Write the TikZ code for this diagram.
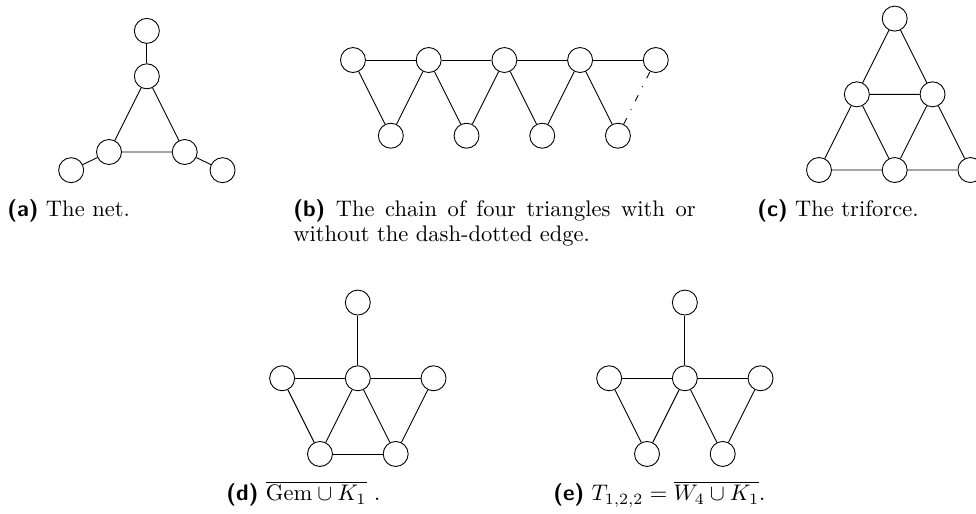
\documentclass[tikz,border=0pt]{standalone}
\begin{document}
\begin{tikzpicture}[x=1.182cm, y=1.182cm,
    vtx/.style={circle, draw, inner sep=0pt, minimum size=0.39cm},
    captxt/.style={anchor=base west, inner sep=0pt}]
\useasboundingbox (0,0) rectangle (12.893,-6.790);
% (a) The net
\begin{scope}[shift={(1.440,-2.008)}]
  \node[vtx] (na) at (0,0) {};
  \node[vtx] (nb) at (1,0) {};
  \node[vtx] (nc) at (0.5,1) {};
  \node[vtx] (nd) at (0.5,1.6) {};
  \node[vtx] (ne) at (-0.5,-0.24) {};
  \node[vtx] (nf) at (1.5,-0.24) {};
  \draw (na) -- (nb) -- (nc) -- (na);
  \draw (nc) -- (nd);
  \draw (na) -- (ne);
  \draw (nb) -- (nf);
\end{scope}
\node[captxt] (capa) at (0.092,-2.866) {\textsf{\textbf{(a)}} The net.};
% (b) Chain of four triangles
\begin{scope}[shift={(4.663,-0.793)}]
  \foreach \i in {0,...,4}
    \node[vtx] (t\i) at (\i,0) {};
  \foreach \i in {0,...,3}
    \node[vtx] (u\i) at (\i+0.5,-1) {};
  \draw (t0) -- (t1) -- (t2) -- (t3) -- (t4);
  \foreach \i/\j in {0/1,1/2,2/3}
    \draw (t\i) -- (u\i) -- (t\j);
  \draw (t3) -- (u3);
  \draw[loosely dash dot] (u3) -- (t4);
\end{scope}
\node[captxt, text width=6.28cm, align=justify,
      font=\fontsize{10}{11}\selectfont] (capb) at (3.870,-2.866)
  {\textsf{\textbf{(b)}} The chain of four triangles with or without the dash-dotted edge.};
% (c) The triforce
\begin{scope}[shift={(10.819,-2.246)}]
  \node[vtx] (f0) at (0,0) {};
  \node[vtx] (f1) at (1,0) {};
  \node[vtx] (f2) at (2,0) {};
  \node[vtx] (f3) at (0.5,1) {};
  \node[vtx] (f4) at (1.5,1) {};
  \node[vtx] (f5) at (1,2) {};
  \draw (f0) -- (f1) -- (f2) -- (f4) -- (f5) -- (f3) -- (f0);
  \draw (f3) -- (f4) -- (f1) -- (f3);
\end{scope}
\node[captxt] (capc) at (10.0,-2.866) {\textsf{\textbf{(c)}} The triforce.};
% (d) complement of gem + K1
\begin{scope}[shift={(4.227,-5.997)}]
  \node[vtx] (g0) at (0,0) {};
  \node[vtx] (g1) at (1,0) {};
  \node[vtx] (g2) at (-0.5,1) {};
  \node[vtx] (g3) at (0.5,1) {};
  \node[vtx] (g4) at (1.5,1) {};
  \node[vtx] (g5) at (0.5,2) {};
  \draw (g2) -- (g3) -- (g4);
  \draw (g3) -- (g5);
  \draw (g2) -- (g0) -- (g3) -- (g1) -- (g4);
  \draw (g0) -- (g1);
\end{scope}
\node[captxt] (capd) at (2.986,-6.618)
  {\textsf{\textbf{(d)}} $\overline{\mathrm{Gem}\cup K_1}$\ .};
% (e) T_{1,2,2}
\begin{scope}[shift={(8.547,-5.997)}]
  \node[vtx] (w0) at (0,0) {};
  \node[vtx] (w1) at (1,0) {};
  \node[vtx] (w2) at (-0.5,1) {};
  \node[vtx] (w3) at (0.5,1) {};
  \node[vtx] (w4) at (1.5,1) {};
  \node[vtx] (w5) at (0.5,2) {};
  \draw (w2) -- (w3) -- (w4);
  \draw (w3) -- (w5);
  \draw (w2) -- (w0) -- (w3) -- (w1) -- (w4);
\end{scope}
\node[captxt] (cape) at (7.305,-6.618)
  {\textsf{\textbf{(e)}} $T_{1,2,2}=\overline{W_4\cup K_1}$.};
\end{tikzpicture}
\end{document}
